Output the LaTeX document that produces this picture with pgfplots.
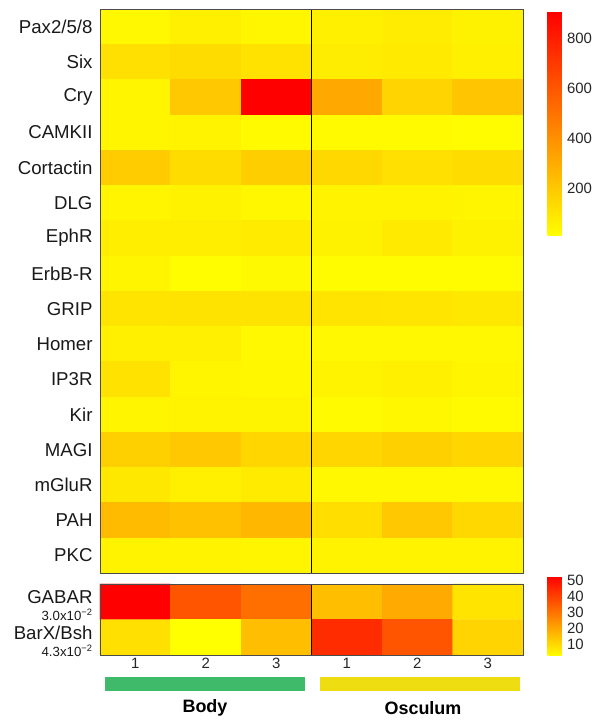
\documentclass[border=0pt]{standalone}
\usepackage{pgfplots}
\pgfplotsset{compat=1.18}
\usepackage{fontspec}
\setmainfont{Liberation Sans}
\definecolor{bodygreen}{RGB}{62,186,106}
\definecolor{oscyellow}{RGB}{238,221,17}
\begin{document}
\begin{tikzpicture}
\pgfplotsset{
  hm/.style={
    scale only axis, width=423bp,
    xmin=-0.5, xmax=5.5, y dir=reverse,
    axis on top,
    axis line style={draw=black!70, line width=0.8pt},
    major tick length=0pt,
    /pgf/number format/assume math mode=true,
    colormap={yr}{rgb255=(255,255,0) rgb255=(255,0,0)},
    yticklabel style={font=\fontsize{18.7}{17}\selectfont, align=right, text=black!90, xshift=-4bp},
    enlargelimits=false,
  },
  cb/.style={
    at={(parent axis.north east)}, anchor=north west, xshift=16bp,
    scale only axis, width=15bp,
    axis line style={draw=none},
    major tick length=0pt,
    /pgf/number format/assume math mode=true,
    yticklabel pos=right,
    yticklabel style={font=\fontsize{15}{17}\selectfont, text=black!85, xshift=1bp},
  }
}
\begin{axis}[hm, name=top, height=564bp, ymin=-0.5, ymax=15.5,
  xtick=\empty,
  ytick={0,...,15},
  yticklabels={Pax2/5/8,Six,Cry,CAMKII,Cortactin,DLG,EphR,ErbB-R,GRIP,Homer,IP3R,Kir,MAGI,mGluR,PAH,PKC},
  point meta min=8, point meta max=905,
  colorbar,
  colorbar style={cb, yshift=-3bp, height=224bp, ytick={200,400,600,800}},
]
\addplot[matrix plot*, mesh/cols=6, point meta=explicit] table[meta=c] {
x y c
0 0 33
1 0 61
2 0 40
3 0 61
4 0 75
5 0 54
0 1 117
1 1 131
2 1 110
3 1 71
4 1 82
5 1 61
0 2 43
1 2 201
2 2 905
3 2 307
4 2 159
5 2 208
0 3 43
1 3 50
2 3 26
3 3 26
4 3 26
5 3 19
0 4 187
1 4 131
2 4 180
3 4 145
4 4 117
5 4 131
0 5 43
1 5 54
2 5 36
3 5 50
4 5 50
5 5 43
0 6 68
1 6 68
2 6 78
3 6 54
4 6 82
5 6 54
0 7 43
1 7 15
2 7 29
3 7 19
4 7 19
5 7 19
0 8 103
1 8 106
2 8 106
3 8 103
4 8 99
5 8 89
0 9 61
1 9 64
2 9 33
3 9 33
4 9 33
5 9 33
0 10 110
1 10 43
2 10 36
3 10 50
4 10 61
5 10 43
0 11 43
1 11 50
2 11 47
3 11 26
4 11 36
5 11 26
0 12 173
1 12 201
2 12 152
3 12 152
4 12 173
5 12 152
0 13 89
1 13 61
2 13 78
3 13 33
4 13 33
5 13 33
0 14 244
1 14 223
2 14 258
3 14 124
4 14 201
5 14 145
0 15 50
1 15 50
2 15 43
3 15 50
4 15 50
5 15 50
};
\draw[black, line width=0.9pt] (axis cs:2.5,-0.5) -- (axis cs:2.5,15.5);
\end{axis}
\begin{axis}[hm, name=bot, at={(top.south west)}, anchor=north west, yshift=-11bp,
  height=71bp, ymin=-0.5, ymax=1.5,
  xtick={0,...,5}, xticklabels={1,2,3,1,2,3},
  xticklabel style={font=\fontsize{15}{17}\selectfont, text=black!85},
  ytick={0,1},
  yticklabel style={yshift=-4bp},
  yticklabels={{GABAR\\{\fontsize{13.3}{17}\selectfont 3.0x10\textsuperscript{−2}}},{BarX/Bsh\\{\fontsize{13.3}{17}\selectfont 4.3x10\textsuperscript{−2}}}},
  point meta min=3, point meta max=53,
  colorbar,
  colorbar style={cb, yshift=8bp, height=80bp, ytick={10,20,30,40,50}},
]
\addplot[matrix plot*, mesh/cols=6, point meta=explicit] table[meta=c] {
x y c
0 0 53
1 0 36.3
2 0 31
3 0 15.5
4 0 19.5
5 0 8.3
0 1 9.1
1 1 3
2 1 15.4
3 1 44
4 1 36.3
5 1 11.4
};
\draw[black, line width=0.9pt] (axis cs:2.5,-0.5) -- (axis cs:2.5,1.5);
\end{axis}
\fill[bodygreen] ([xshift=5bp,yshift=-22bp]bot.south west) rectangle ([xshift=205bp,yshift=-36bp]bot.south west);
\fill[oscyellow] ([xshift=220bp,yshift=-22bp]bot.south west) rectangle ([xshift=420bp,yshift=-36bp]bot.south west);
\node[font=\bfseries\fontsize{18}{20}\selectfont] at ([xshift=105bp,yshift=-53bp]bot.south west) {Body};
\node[font=\bfseries\fontsize{18}{20}\selectfont] at ([xshift=323bp,yshift=-53bp]bot.south west) {Osculum};
\path ([xshift=-100bp,yshift=9bp]top.north west) rectangle ([xshift=495bp,yshift=-715bp]top.north west);
\end{tikzpicture}
\end{document}
